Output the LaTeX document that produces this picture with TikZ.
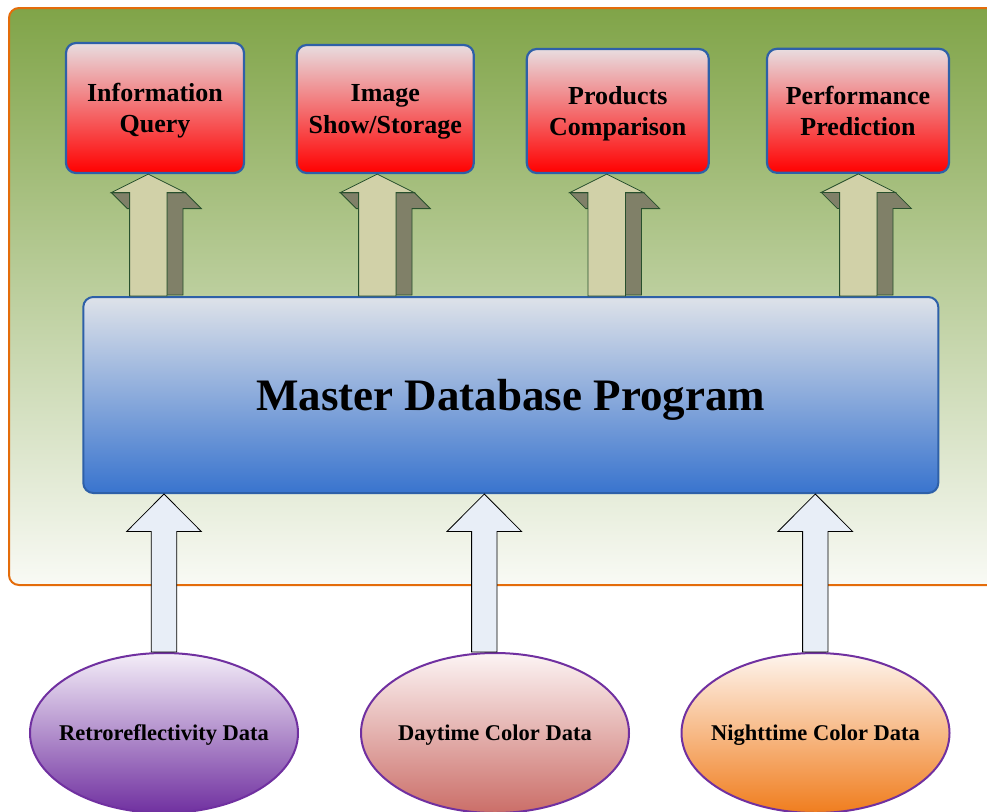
\documentclass[tikz,border=0pt]{standalone}
\usepackage{fontspec}
\setmainfont{Liberation Serif}
\usetikzlibrary{calc,shapes.geometric}

\definecolor{paneltop}{RGB}{128,164,72}
\definecolor{panelbot}{RGB}{249,250,245}
\definecolor{panelline}{RGB}{228,108,10}
\definecolor{outtop}{RGB}{232,221,224}
\definecolor{outbot}{RGB}{255,0,0}
\definecolor{boxline}{RGB}{46,96,168}
\definecolor{mastertop}{RGB}{222,226,233}
\definecolor{masterbot}{RGB}{57,116,206}
\definecolor{liftfront}{RGB}{209,209,168}
\definecolor{liftside}{RGB}{128,128,104}
\definecolor{liftedge}{RGB}{40,80,45}
\definecolor{feedfill}{RGB}{232,238,247}
\definecolor{srcline}{RGB}{112,48,160}
\definecolor{retrotop}{RGB}{244,238,248}
\definecolor{retrobot}{RGB}{112,48,160}
\definecolor{daytop}{RGB}{252,244,244}
\definecolor{daybot}{RGB}{203,110,104}
\definecolor{nighttop}{RGB}{254,245,238}
\definecolor{nightbot}{RGB}{240,125,30}

\tikzset{
  outbox/.style={draw=boxline, line width=2.2pt, rounded corners=10pt,
    top color=outtop, bottom color=outbot, inner sep=0pt, align=center,
    text depth=0pt, font=\fontsize{26}{31.5}\selectfont\bfseries},
  masterbox/.style={draw=boxline, line width=2pt, rounded corners=10pt,
    top color=mastertop, bottom color=masterbot, inner sep=0pt,
    text depth=0pt, font=\fontsize{45}{54}\selectfont\bfseries},
  source/.style={ellipse, draw=srcline, line width=2pt, inner sep=0pt,
    minimum width=268pt, minimum height=160pt, text depth=0pt,
    font=\fontsize{22.5}{27}\selectfont\bfseries},
  liftline/.style={draw=liftedge, line width=0.8pt, line join=miter},
  feedline/.style={draw=black, line width=0.8pt, fill=feedfill}
}

% raised 3D arrow from the lower node (#2) to the upper node (#3), axis at x=#1
\newcommand\raisedarrow[3]{%
  \path let \p1=(#3.south), \p2=(#2.north) in
    [liftline, fill=liftside]
    (#1pt+18.7pt,\y1-18.5pt) -- (#1pt+37pt,\y1-18.5pt) -- (#1pt+53pt,\y1-34.5pt)
    -- (#1pt+34.7pt,\y1-34.5pt) -- (#1pt+34.7pt,\y2+1pt) -- (#1pt+18.7pt,\y2+1pt) -- cycle;
  \path let \p1=(#3.south) in
    [liftline, fill=liftside]
    (#1pt-37pt,\y1-18.5pt) -- (#1pt-18.7pt,\y1-18.5pt) -- (#1pt-18.7pt,\y1-34.5pt)
    -- (#1pt-21pt,\y1-34.5pt) -- cycle;
  \path let \p1=(#3.south), \p2=(#2.north) in
    [liftline, fill=liftfront]
    (#1pt,\y1) -- (#1pt+37pt,\y1-18.5pt) -- (#1pt+18.7pt,\y1-18.5pt)
    -- (#1pt+18.7pt,\y2) -- (#1pt-18.7pt,\y2) -- (#1pt-18.7pt,\y1-18.5pt)
    -- (#1pt-37pt,\y1-18.5pt) -- cycle;
}

% flat feed arrow from the source ellipse (#2) up to the box (#3), axis at x=#1
\newcommand\feedarrow[3]{%
  \path let \p1=(#3.south), \p2=(#2.north) in
    [feedline]
    (#1pt,\y1) -- (#1pt+37.3pt,\y1-37.5pt) -- (#1pt+12.7pt,\y1-37.5pt)
    -- (#1pt+12.7pt,\y2) -- (#1pt-12.7pt,\y2) -- (#1pt-12.7pt,\y1-37.5pt)
    -- (#1pt-37.3pt,\y1-37.5pt) -- cycle;
}

\begin{document}
\begin{tikzpicture}[x=1pt,y=-1pt]
\useasboundingbox (0,0) rectangle (987,811);
\clip (0,0) rectangle (987,811);

% background panel
\path[draw=panelline, line width=2pt, rounded corners=10pt,
  top color=paneltop, bottom color=panelbot] (9,8) rectangle (1010,585);

% output modules
\node[outbox, minimum width=178pt, minimum height=130pt] (query) at (155,108)
  {Information\\Query};
\node[outbox, minimum width=177pt, minimum height=128pt] (image) at (385.3,109)
  {Image\\Show/Storage};
\node[outbox, minimum width=182pt, minimum height=124pt] (compare) at (617.8,111)
  {Products\\Comparison};
\node[outbox, minimum width=182pt, minimum height=124pt] (predict) at (858,110.8)
  {Performance\\Prediction};

% central program
\node[masterbox, minimum width=855pt, minimum height=196pt] (master) at (510.8,395)
  {Master Database Program};

% data sources (labels kept zero-width so the ellipse keeps its size)
\node[source, top color=retrotop, bottom color=retrobot] (retro) at (164,733)
  {\makebox[0pt][c]{Retroreflectivity Data}};
\node[source, top color=daytop, bottom color=daybot] (day) at (495,733)
  {\makebox[0pt][c]{Daytime Color Data}};
\node[source, top color=nighttop, bottom color=nightbot] (night) at (815.5,733)
  {\makebox[0pt][c]{Nighttime Color Data}};

% program to modules
\raisedarrow{148.3}{master}{query}
\raisedarrow{377.3}{master}{image}
\raisedarrow{606.7}{master}{compare}
\raisedarrow{858.3}{master}{predict}

% sources to program
\feedarrow{164}{retro}{master}
\feedarrow{484.3}{day}{master}
\feedarrow{815.3}{night}{master}
\end{tikzpicture}
\end{document}
